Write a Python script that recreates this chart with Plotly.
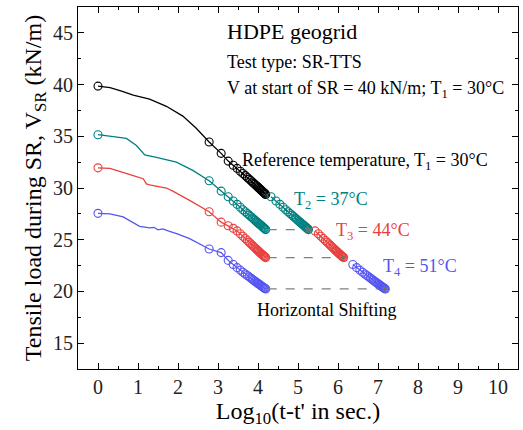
import numpy as np
import plotly.graph_objects as go

# ---------------- data ----------------
# marker times: t = 1 s and every 600 s up to 15600 s
marker_times = [1] + [600 * k for k in range(1, 27)]

# early portion of each curve (log10 time, V) before the 600 s markers
black_early_x = [0, 0.30, 0.59, 0.88, 1.29, 1.71, 2.12, 2.45]
black_early_v = [39.85, 39.7, 39.36, 38.97, 38.6, 37.9, 36.95, 35.8]
teal_early_x = [0, 0.30, 0.71, 0.96, 1.17, 1.46, 1.96, 2.37]
teal_early_v = [35.15, 35.0, 34.8, 34.1, 33.2, 32.95, 32.5, 31.7]
red_early_x = [0, 0.30, 0.88, 1.13, 1.21, 1.29, 1.71, 1.87, 2.29]
red_early_v = [31.95, 31.9, 31.2, 30.9, 30.4, 30.3, 30.0, 29.7, 28.8]
blue_early_x = [0, 0.30, 0.63, 0.88, 1.04, 1.29, 1.40, 1.50, 1.62, 1.79, 2.00, 2.29, 2.55]
blue_early_v = [27.55, 27.5, 27.2, 26.7, 26.3, 26.15, 26.2, 25.95, 26.05, 25.8, 25.55, 25.1, 24.6]

# V at each marker time (first value is t = 1 s)
black_mv = [39.85, 34.45, 33.35, 32.6, 32.2, 31.9, 31.62, 31.4, 31.2, 31.02, 30.86, 30.72, 30.58,
            30.46, 30.35, 30.24, 30.14, 30.04, 29.96, 29.87, 29.79, 29.72, 29.64, 29.57, 29.51, 29.44, 29.38]
teal_mv = [35.15, 30.7, 29.7, 29.15, 28.75, 28.42, 28.14, 27.9, 27.7, 27.53, 27.38, 27.24, 27.11,
           26.99, 26.89, 26.79, 26.69, 26.6, 26.52, 26.44, 26.37, 26.3, 26.23, 26.16, 26.1, 26.04, 25.98]
red_mv = [31.95, 27.7, 26.7, 26.35, 26.1, 25.85, 25.58, 25.33, 25.12, 24.93, 24.76, 24.6, 24.46,
          24.33, 24.21, 24.1, 24.0, 23.9, 23.81, 23.73, 23.65, 23.58, 23.51, 23.44, 23.38, 23.32, 23.27]
blue_mv = [27.55, 24.1, 23.75, 23.0, 22.6, 22.3, 22.06, 21.86, 21.69, 21.54, 21.41, 21.29, 21.18,
           21.08, 20.99, 20.9, 20.82, 20.75, 20.68, 20.61, 20.55, 20.49, 20.43, 20.38, 20.33, 20.28, 20.24]

# horizontal shift factors (log10 a_T) and first marker index kept in shifted curve
shifts = {"teal": 1.07, "red": 1.95, "blue": 2.99}
shift_start = {"teal": 3, "red": 5, "blue": 4}

colors = {"black": "#000000", "teal": "#008080", "red": "#E8403E", "blue": "#5555F2"}

FONT = "Liberation Serif"

# ---------------- figure ----------------
fig = go.Figure()
mx = np.log10(np.array(marker_times, dtype=float))

series = [("black", black_early_x, black_early_v, black_mv),
          ("teal", teal_early_x, teal_early_v, teal_mv),
          ("red", red_early_x, red_early_v, red_mv),
          ("blue", blue_early_x, blue_early_v, blue_mv)]

for name, ex, ev, mv in series:
    c = colors[name]
    lx = list(ex) + list(mx[1:])
    lv = list(ev) + list(mv[1:])
    fig.add_trace(go.Scatter(x=lx, y=lv, mode="lines", line=dict(color=c, width=1.3),
                             showlegend=False, hoverinfo="skip"))
    fig.add_trace(go.Scatter(x=mx, y=mv, mode="markers",
                             marker=dict(symbol="circle-open", size=8, color=c, line=dict(width=1.1)),
                             showlegend=False))

# dashed shifting lines
for name, mv in [("teal", teal_mv), ("red", red_mv), ("blue", blue_mv)]:
    x0 = mx[-1] + 0.05
    x1 = mx[-1] + shifts[name]
    fig.add_trace(go.Scatter(x=[x0, x1], y=[mv[-1], mv[-1]], mode="lines",
                             line=dict(color="#808080", width=1.2, dash="dash"),
                             showlegend=False, hoverinfo="skip"))

# shifted curves
for name, mv in [("teal", teal_mv), ("red", red_mv), ("blue", blue_mv)]:
    c = colors[name]
    s = shift_start[name]
    sx = mx[s:] + shifts[name]
    sv = mv[s:]
    fig.add_trace(go.Scatter(x=sx, y=sv, mode="lines+markers",
                             line=dict(color=c, width=1.3),
                             marker=dict(symbol="circle-open", size=8, color=c, line=dict(width=1.1)),
                             showlegend=False))

# arrow heads at the end of shifting lines
for name, mv in [("teal", teal_mv), ("red", red_mv), ("blue", blue_mv)]:
    fig.add_trace(go.Scatter(x=[mx[-1] + shifts[name] - 0.02], y=[mv[-1]], mode="markers",
                             marker=dict(symbol="triangle-right", size=6, color="#707070"),
                             showlegend=False, hoverinfo="skip"))

def txt(x, y, s, size, color="black"):
    fig.add_annotation(x=x, y=y, xref="x", yref="y", text=s, showarrow=False,
                       xanchor="left", yanchor="middle", borderpad=0,
                       font=dict(family=FONT, size=size, color=color))

txt(3.2, 45.1, "HDPE geogrid", 22)
txt(3.2, 42.2, "Test type: SR-TTS", 18)
txt(3.2, 39.5, "V at start of SR = 40 kN/m; T<sub>1</sub> = 30°C", 18)
txt(3.57, 32.6, "Reference temperature, T<sub>1</sub> = 30°C", 18)
txt(4.88, 28.75, "T<sub>2</sub> = 37°C", 18, colors["teal"])
txt(5.93, 25.8, "T<sub>3</sub> = 44°C", 18, colors["red"])
txt(7.1, 22.3, "T<sub>4</sub> = 51°C", 18, colors["blue"])
txt(3.96, 18.2, "Horizontal Shifting", 18)

axis_common = dict(showline=True, linecolor="black", linewidth=1, mirror="allticks",
                   ticks="inside", ticklen=6, tickcolor="black", tickwidth=1,
                   showgrid=False, zeroline=False,
                   tickfont=dict(family=FONT, size=20, color="#222222"))

fig.update_xaxes(range=[-0.5, 10.5], tickmode="array", tickvals=list(range(0, 11)),
                 minor=dict(tickmode="array", tickvals=[i + 0.5 for i in range(-1, 11)],
                            ticks="inside", ticklen=3, tickcolor="black"),
                 title=dict(text="Log<sub>10</sub>(t-t' in sec.)",
                            font=dict(family=FONT, size=24, color="black"), standoff=4),
                 **axis_common)
fig.update_yaxes(range=[12.5, 47.5], tickmode="array", tickvals=[15, 20, 25, 30, 35, 40, 45],
                 minor=dict(tickmode="array", tickvals=[12.5 + 5 * i for i in range(8)],
                            ticks="inside", ticklen=3, tickcolor="black"),
                 title=dict(text="Tensile load during SR, V<sub>SR</sub> (kN/m)",
                            font=dict(family=FONT, size=24, color="black"), standoff=4),
                 **axis_common)

fig.update_layout(width=523, height=430, margin=dict(l=78, r=5, t=7, b=61),
                  paper_bgcolor="white", plot_bgcolor="white",
                  font=dict(family=FONT))

fig.write_html("out.html")
